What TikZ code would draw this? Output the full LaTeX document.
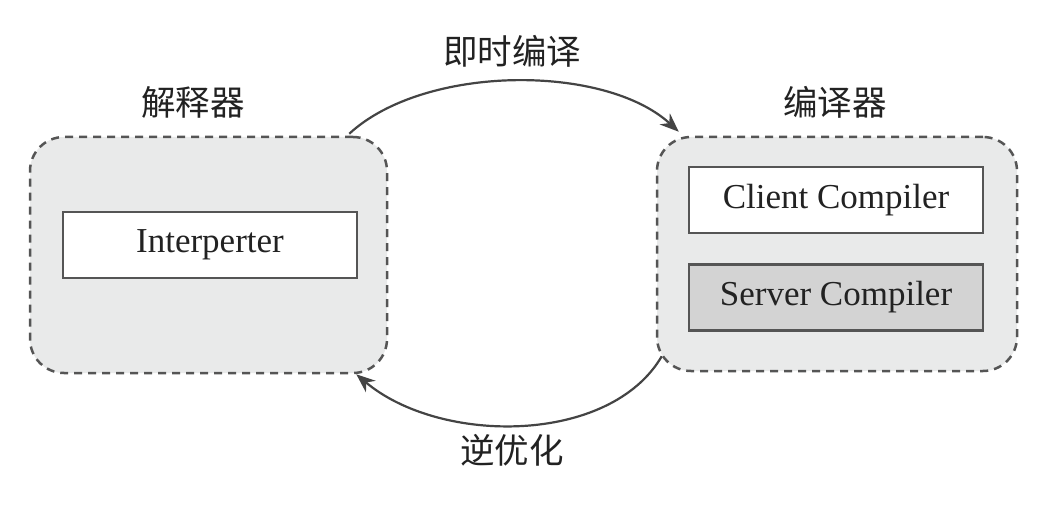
\documentclass[tikz,border=0pt]{standalone}
\usepackage{fontspec}
\setmainfont{Liberation Serif}
\newfontfamily\cjk{Noto Sans CJK SC}
\usetikzlibrary{arrows.meta,calc}
\definecolor{boxfill}{HTML}{E9EAEA}
\definecolor{srvfill}{HTML}{D3D3D3}
\definecolor{edge}{HTML}{555555}
\definecolor{arr}{HTML}{444444}
\definecolor{txt}{HTML}{222222}
\begin{document}
\begin{tikzpicture}[x=1pt,y=-1pt,
  groupbox/.style={draw=edge,fill=boxfill,line width=2.5pt,dash pattern=on 8pt off 6pt,rounded corners=34pt,inner sep=0pt},
  compbox/.style={draw=edge,line width=2.5pt,inner sep=0pt,minimum width=294pt,minimum height=66pt,text=txt,font=\fontsize{35}{40}\selectfont},
  cnlabel/.style={text=txt,font=\cjk\fontsize{34.5}{38}\selectfont},
  flow/.style={draw=arr,line width=2.2pt,-{Stealth[length=19pt,width=15pt]}}]
\useasboundingbox (0,0) rectangle (1062,526);
\fill[white] (0,0) rectangle (1062,526);
\node[groupbox,minimum width=357pt,minimum height=236pt] (lbox) at (208.5,255) {};
\node[groupbox,minimum width=360pt,minimum height=234pt] (rbox) at (837,254) {};
\node[compbox,fill=white] (interp) at (210,245) {\raisebox{-2pt}{Interperter}};
\node[compbox,fill=white] (client) at (836,200) {\raisebox{-2pt}{Client Compiler}};
\node[compbox,fill=srvfill] (server) at (836,297.5) {\raisebox{-2pt}{Server Compiler}};
\node[cnlabel] (lname) at (193,102) {解释器};
\node[cnlabel] (rname) at (835,102) {编译器};
\node[cnlabel] (jit) at (512,51) {即时编译};
\node[cnlabel] (deopt) at (512,450) {逆优化};
\coordinate (ts) at ($(lbox.north east)+(-39,-2)$);
\coordinate (te) at ($(rbox.north west)+(23,-4)$);
\coordinate (bs) at ($(rbox.south west)+(6,-16)$);
\coordinate (be) at ($(lbox.south east)+(-32,0)$);
\draw[flow] (ts) .. controls (425,64) and (605,64) .. (te);
\draw[flow] (bs) .. controls (610,445) and (440,445) .. (be);
\end{tikzpicture}
\end{document}
